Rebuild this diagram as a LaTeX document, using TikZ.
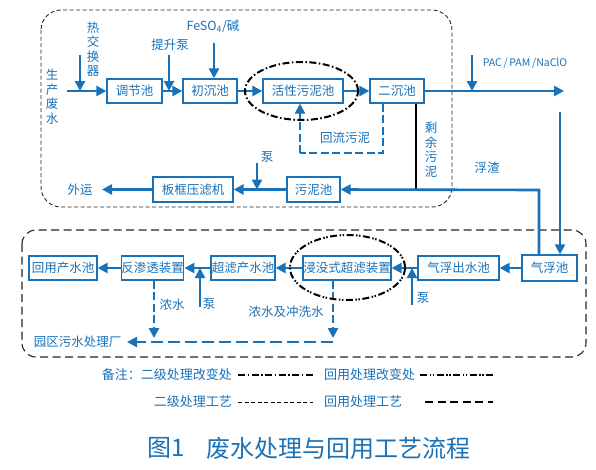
\documentclass[tikz,border=0pt]{standalone}
\usepackage{fontspec}
\setmainfont{Noto Sans CJK SC}
\usetikzlibrary{arrows.meta}
\definecolor{bl}{RGB}{24,114,186}
\begin{document}
\begin{tikzpicture}[x=1pt,y=-1pt,
  pbox/.style={draw=bl, line width=1.3pt, fill=white, text=bl, minimum height=24pt, inner sep=0pt, font=\fontsize{12.5}{14}\selectfont},
  flow/.style={draw=bl, line width=2.6pt, -{Triangle[length=10pt,width=10pt]}},
  plain/.style={draw=bl, line width=2.6pt},
  bdash/.style={draw=bl, line width=2.6pt, dash pattern=on 8pt off 3.5pt},
  lbl/.style={text=bl, inner sep=0pt, font=\fontsize{12.5}{14}\selectfont},
  vlbl/.style={lbl, align=center, font=\fontsize{12.5}{14.5}\selectfont},
  legt/.style={text=bl, inner sep=0pt, font=\fontsize{13}{15}\selectfont},
  dashdotline/.style={black, line width=2pt, dash pattern=on 7pt off 2.5pt on 1.5pt off 2.5pt},
  dashdotdotline/.style={black, line width=2pt, dash pattern=on 7pt off 2.5pt on 1.5pt off 1.5pt on 1.5pt off 2.5pt},
  finedash/.style={black!85, line width=0.9pt, dash pattern=on 4pt off 2.5pt},
  longdash/.style={black!85, line width=1.1pt, dash pattern=on 8pt off 4.5pt}
]
\useasboundingbox (0,0) rectangle (596,469);
\fill[white] (0,0) rectangle (596,469);

% group frames
\draw[finedash, rounded corners=20pt] (41,10) rectangle (452,207);
\draw[longdash, rounded corners=14pt] (22,230) rectangle (586,357);

% top boxes
\node[pbox, minimum width=55pt] (tj) at (134.5,91) {调节池};
\node[pbox, minimum width=54pt] (cc) at (210,91) {初沉池};
\node[pbox, minimum width=80pt] (hx) at (303,91) {活性污泥池};
\node[pbox, minimum width=54pt] (ec) at (397,91) {二沉池};
\node[pbox, minimum width=53pt, minimum height=25pt] (wn) at (313.5,189.5) {污泥池};
\node[pbox, minimum width=80pt, minimum height=25pt] (bk) at (193,189.5) {板框压滤机};

% bottom boxes
\node[pbox, minimum width=68pt] (hy) at (63,268) {回用产水池};
\node[pbox, minimum width=61pt] (fs) at (152.5,268) {反渗透装置};
\node[pbox, minimum width=64pt] (cl) at (243,268) {超滤产水池};
\node[pbox, minimum width=88pt] (jm) at (347,268) {浸没式超滤装置};
\node[pbox, minimum width=81pt] (qc) at (458.5,268) {气浮出水池};
\node[pbox, minimum width=55pt, minimum height=26pt] (qf) at (549.5,268) {气浮池};

% labels
\node[vlbl] (l1) at (52,97) {生\\产\\废\\水};
\node[vlbl] (l2) at (93,49) {热\\交\\换\\器};
\node[lbl] (l3) at (170,45) {提升泵};
\node[lbl] (l4) at (213,26) {FeSO\textsubscript{4}/碱};
\node[lbl] (l5) at (345,138) {回流污泥};
\node[vlbl] (l6) at (431,150) {剩\\余\\污\\泥};
\node[lbl, font=\fontsize{10.5}{12}\selectfont] (l7) at (525,63) {PAC\,/\,PAM\,/NaClO};
\node[lbl] (l8) at (487,168) {浮渣};
\node[lbl] (l9) at (267,157) {泵};
\node[lbl] (l10) at (80,190) {外运};
\node[lbl] (l11) at (209,304) {泵};
\node[lbl] (l12) at (172,305) {浓水};
\node[lbl] (l13) at (77.5,342) {园区污水处理厂};
\node[lbl] (l14) at (286,312) {浓水及冲洗水};
\node[lbl] (l15) at (423,298) {泵};

% coordinates
\coordinate (in) at (67,91);
\coordinate (hxa) at (80,55);
\coordinate (hxb) at (80,91);
\coordinate (tsa) at (169,55);
\coordinate (tsb) at (169,91);
\coordinate (fea) at (214,43);
\coordinate (out) at (564,91);
\coordinate (paca) at (472,55);
\coordinate (pacb) at (472,91);
\coordinate (qfa) at (560,112);
\coordinate (fzc) at (539,190);
\coordinate (slc) at (416,190);
\coordinate (bpa) at (257,163);
\coordinate (bpb) at (257,189.5);
\coordinate (wy) at (102,189.5);
\coordinate (rf1) at (383,153);
\coordinate (rf2) at (300,153);
\coordinate (p1a) at (200,307);
\coordinate (p1b) at (200,268);
\coordinate (p2a) at (412,305);
\coordinate (p2b) at (412,268);
\coordinate (nsa) at (154,338);
\coordinate (nsl) at (154,342);
\coordinate (nca) at (333,338);
\coordinate (ncl) at (333,342);
\coordinate (yq) at (127,342);

% top flow
\draw[flow] (in) -- (tj.west);
\draw[flow] (hxa) -- (hxb);
\draw[flow] (tj.east) -- (cc.west);
\draw[flow] (tsa) -- (tsb);
\draw[flow] (fea) -- (cc.north -| fea);
\draw[flow] (cc.east) -- (hx.west);
\draw[flow] (hx.east) -- (ec.west);
\draw[flow] (ec.east) -- (out);
\draw[flow] (paca) -- (pacb);
\draw[bdash] (ec.south -| rf1) -- (rf1) -- (rf2);
\draw[flow, dash pattern=on 8pt off 3.5pt] (rf2) -- (hx.south -| rf2);
\draw[black, line width=1.6pt] (ec.south -| slc) -- (slc);
\draw[flow] (qf.north -| fzc) -- (fzc) -- (wn.east);
\draw[flow] (qfa) -- (qf.north -| qfa);
\draw[flow] (wn.west) -- (bk.east);
\draw[flow] (bpa) -- (bpb);
\draw[flow] (bk.west) -- (wy);

% bottom flow
\draw[flow] (qf.west) -- (qc.east);
\draw[flow] (qc.west) -- (jm.east);
\draw[flow] (p2a) -- (p2b);
\draw[flow] (jm.west) -- (cl.east);
\draw[flow] (cl.west) -- (fs.east);
\draw[flow] (p1a) -- (p1b);
\draw[flow] (fs.west) -- (hy.east);
\draw[flow, dash pattern=on 8pt off 3.5pt] (fs.south -| nsa) -- (nsa);
\draw[flow, dash pattern=on 8pt off 3.5pt] (jm.south -| nca) -- (nca);
\draw[flow, dash pattern=on 12pt off 5pt] (ncl) -- (yq);

% ellipses
\draw[dashdotline] (301.5,91) ellipse [x radius=56.5pt, y radius=29pt];
\draw[dashdotdotline] (347.5,267.5) ellipse [x radius=57.5pt, y radius=32.5pt];

% legend
\node[legt, anchor=east] (g1) at (232,375) {备注：二级处理改变处};
\node[legt, anchor=east] (g2) at (232,402) {二级处理工艺};
\node[legt, anchor=west] (g3) at (324,375) {回用处理改变处};
\node[legt, anchor=west] (g4) at (324,402) {回用处理工艺};
\draw[dashdotline] (238,375) -- (313,375);
\draw[dashdotdotline] (420,375) -- (493,375);
\draw[black, line width=0.9pt, dash pattern=on 4pt off 2.5pt] (238,402) -- (313,402);
\draw[black, line width=1.1pt, dash pattern=on 8pt off 4.5pt] (425,402) -- (493,402);

% caption
\node[text=bl, inner sep=0pt, anchor=west, font=\fontsize{24}{26}\selectfont] (cap1) at (147,448) {图1};
\node[text=bl, inner sep=0pt, anchor=west, font=\fontsize{24}{26}\selectfont] (cap2) at (206,448) {废水处理与回用工艺流程};
\end{tikzpicture}
\end{document}
